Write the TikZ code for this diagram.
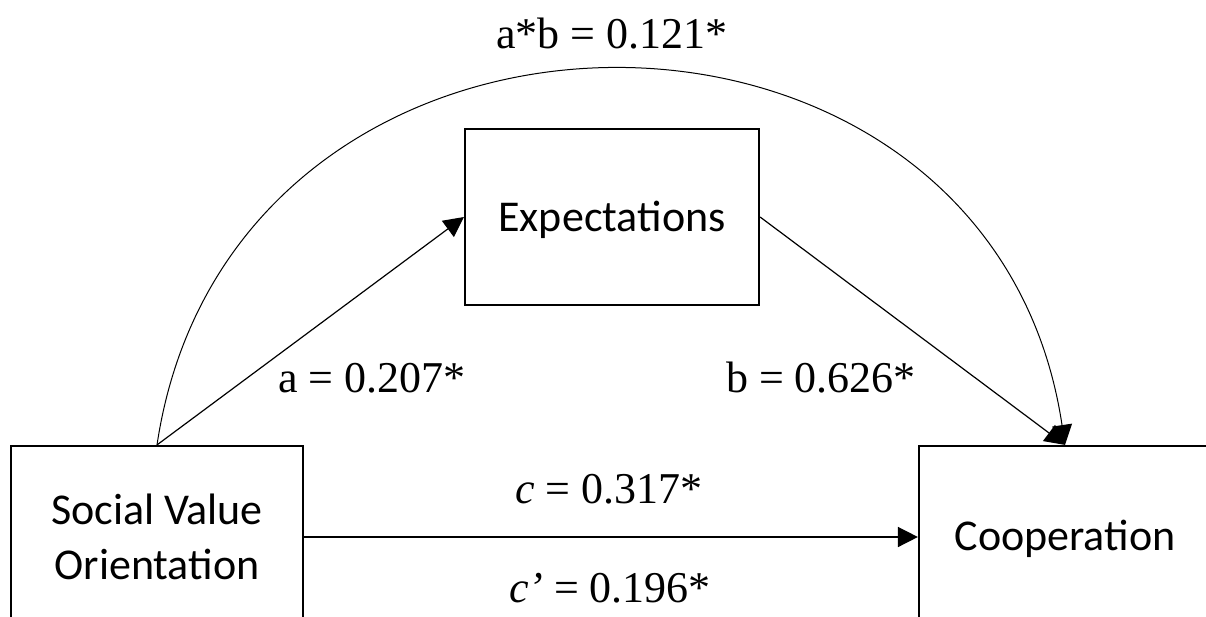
\documentclass[tikz,border=0pt]{standalone}
\usepackage{fontspec}
\setmainfont{Liberation Serif}
\newfontfamily\carlito{Carlito}
\usetikzlibrary{arrows.meta}
\begin{document}
\begin{tikzpicture}[x=1pt,y=-1pt,
  box/.style={draw, line width=2.2pt, inner sep=0pt, font=\carlito\fontsize{44}{55}\selectfont, align=center},
  lbl/.style={font=\fontsize{44}{52}\selectfont, inner sep=0pt, anchor=base},
  conn/.style={line width=1.2pt, -{Triangle[length=20pt,width=20pt]}}
]
\useasboundingbox (0,0) rectangle (1206,616);
\clip (0,0) rectangle (1206,616);
\fill[white] (0,0) rectangle (1206,616);
\node[box, minimum width=292pt, minimum height=182pt] (sv) at (157,537) {Social Value\\Orientation};
\node[box, minimum width=294pt, minimum height=176pt, text depth=2pt] (ex) at (612,217) {Expectations};
\node[box, minimum width=292pt, minimum height=182pt, text depth=4pt] (co) at (1065,537) {Cooperation};
\draw[conn] (sv.north) -- (ex.west);
\draw[conn] (ex.east) -- (co.north);
\draw[conn, line width=1.5pt] (sv.east) -- (co.west);
\draw[conn, line width=1pt] (sv.north) .. controls +(75,-500) and +(-75,-500) .. (co.north);
\node[lbl] (ab) at (612,48) {a*b = 0.121*};
\node[lbl] (la) at (372,392) {a = 0.207*};
\node[lbl] (lb) at (821,392) {b = 0.626*};
\node[lbl] (lc) at (609,503) {\textit{c} = 0.317*};
\node[lbl] (lc2) at (610,602) {\textit{c’} = 0.196*};
\end{tikzpicture}
\end{document}
